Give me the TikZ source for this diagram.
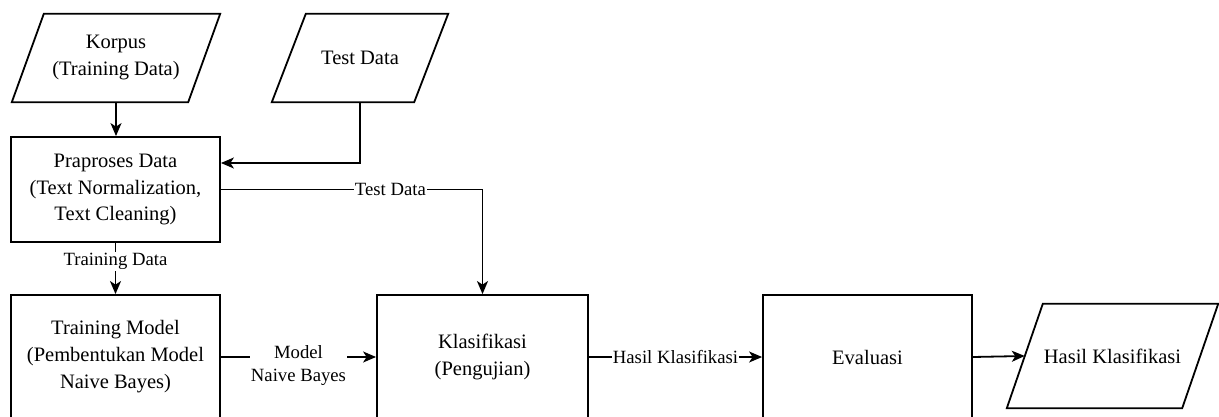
\documentclass[tikz,border=0pt]{standalone}
\usepackage{fontspec}
\setmainfont{Liberation Serif}
\usetikzlibrary{arrows.meta,calc}
\newcommand\mainfs{\fontsize{20.5}{27}\selectfont}
\newcommand\labfs{\fontsize{18.7}{23}\selectfont}
\newcommand\paragram[2]{\draw[line width=1.8pt,line join=miter] ($(#1.north west)+(#2,0)$) -- ($(#1.north east)+(#2,0)$) -- ($(#1.south east)+(-#2,0)$) -- ($(#1.south west)+(-#2,0)$) -- cycle;}
\begin{document}
\begin{tikzpicture}[x=1pt,y=-1pt,
  box/.style={draw, line width=1.8pt, inner sep=0pt, align=center, font=\mainfs},
  io/.style={inner sep=0pt, align=center, font=\mainfs},
  lab/.style={fill=white, inner sep=1pt, align=center, font=\labfs},
  arr/.style={line width=1.8pt, -{Stealth[length=13pt,width=11pt,inset=3.5pt]}}]
\useasboundingbox (0,0) rectangle (1219,417);
\node[box, minimum width=209, minimum height=105] (prap) at (115.5,189.5) {Praproses Data\\(Text Normalization,\\Text Cleaning)};
\node[box, minimum width=209, minimum height=124] (train) at (115.5,357) {Training Model\\(Pembentukan Model\\Naive Bayes)};
\node[box, minimum width=211, minimum height=124] (klas) at (482.5,357) {Klasifikasi\\(Pengujian)};
\node[box, minimum width=209, minimum height=124] (eval) at (867.5,357) {Evaluasi};
\node[io, minimum width=176, minimum height=88] (korpus) at (116,58) {Korpus\\(Training Data)};
\node[io, minimum width=142, minimum height=88] (test) at (360,58) {Test Data};
\node[io, minimum width=175, minimum height=104] (hasil) at (1112.5,356) {Hasil Klasifikasi};
\paragram{korpus}{16}
\paragram{test}{17}
\paragram{hasil}{18}
\draw[arr] (korpus.south) -- (korpus.south |- prap.north);
\draw[arr] (test.south) |- ([yshift=26.5pt]prap.east);
\draw[arr] (prap.east) -| node[lab, pos=0.324] {Test Data} (klas.north);
\draw[arr] (prap.south) -- node[lab, pos=0.36] {Training Data} (train.north);
\draw[arr] (train.east) -- node[lab, yshift=-9pt] {Model\\Naive Bayes} (klas.west);
\draw[arr] (klas.east) -- node[lab] {Hasil Klasifikasi} (eval.west);
\draw[arr] (eval.east) -- (hasil.west);
\end{tikzpicture}
\end{document}
